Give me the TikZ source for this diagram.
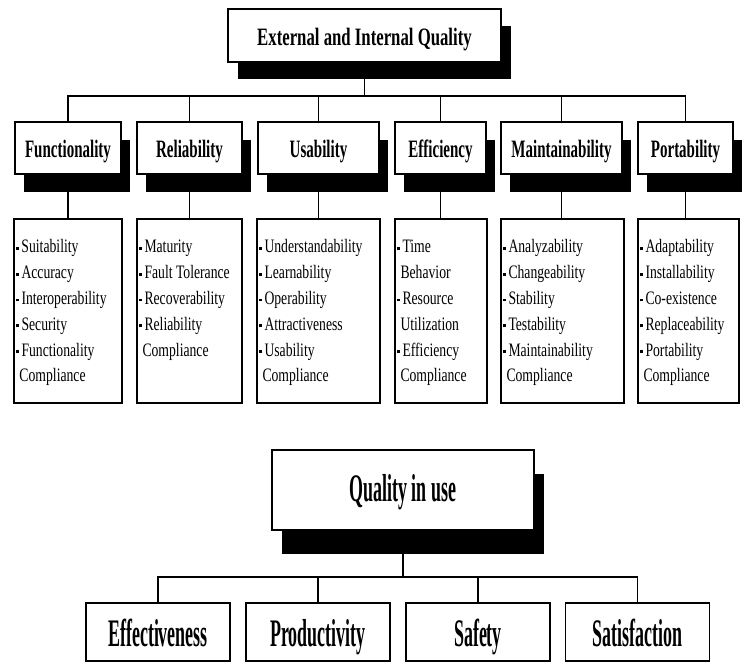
\documentclass[tikz,border=0pt]{standalone}
\usepackage{fontspec}
\setmainfont{Liberation Serif}
\newfontfamily\headfont{Liberation Serif}[FakeStretch=0.67]
\newfontfamily\subfont{Liberation Serif}[FakeStretch=0.6]
\newfontfamily\itemfont{Liberation Serif}[FakeStretch=0.72]
\newfontfamily\usefnt{Liberation Serif}[FakeStretch=0.46]
\usepackage{tikz}
\usetikzlibrary{shadows}

\newcommand{\itm}{\makebox[5.5pt][l]{\raisebox{3pt}{\rule{2.8pt}{2.8pt}}}}
\newcommand{\cnt}{\hspace*{3.5pt}}
\newcommand{\qlist}[2]{\parbox[c][180pt][t]{#1}{\raggedright\rule{0pt}{32pt}#2}}

\begin{document}
\begin{tikzpicture}[x=1pt, y=1pt,
    sbox/.style 2 args={draw, fill=white, line width=1.8pt, inner sep=2pt,
        drop shadow={shadow xshift=#1, shadow yshift=#2, fill=black, opacity=1}},
    head/.style={sbox={9pt}{-18pt}, minimum height=52pt, text height=20pt, text depth=0pt,
        font=\subfont\bfseries\fontsize{25}{30}\selectfont},
    listbox/.style={draw, line width=1.8pt, inner sep=2pt, anchor=north,
        font=\itemfont\fontsize{19}{25.8}\selectfont},
    low/.style={draw, fill=white, line width=1.8pt, inner sep=2pt, minimum width=144pt,
        minimum height=58pt, text height=30pt, text depth=0pt,
        font=\usefnt\bfseries\fontsize{39}{46}\selectfont},
    link/.style={line width=1.8pt}]
    \useasboundingbox (0,0) rectangle (742,663);

    \node[sbox={10pt}{-17pt}, minimum width=273pt, minimum height=53pt, text height=21pt, text depth=0pt,
        font=\headfont\bfseries\fontsize{25}{30}\selectfont] (eiq) at (364.5,627.5) {External and Internal Quality};

    \node[head, minimum width=106pt] (fun) at (68,515) {Functionality};
    \node[head, minimum width=105pt] (rel) at (189.5,515) {Reliability};
    \node[head, minimum width=121pt] (usa) at (318.5,515) {Usability};
    \node[head, minimum width=91pt] (eff) at (440.5,515) {Efficiency};
    \node[head, minimum width=121pt] (mai) at (561.5,515) {Maintainability};
    \node[head, minimum width=95pt] (por) at (685.5,515) {Portability};

    \coordinate (busone) at (0,567);
    \draw[link] (eiq.south) -- (eiq.south |- busone);
    \draw[link] (fun.north) -- (fun.north |- busone) -- (por.north |- busone) -- (por.north);
    \foreach \n in {rel,usa,eff,mai}
        \draw[link] (\n.north) -- (\n.north |- busone);

    \node[listbox] (lfun) at (68,445) {\qlist{104pt}{\itm Suitability\\ \itm Accuracy\\ \itm Interoperability\\ \itm Security\\ \itm Functionality\\ \cnt Compliance}};
    \node[listbox] (lrel) at (189.5,445) {\qlist{101pt}{\itm Maturity\\ \itm Fault Tolerance\\ \itm Recoverability\\ \itm Reliability\\ \cnt Compliance}};
    \node[listbox] (lusa) at (318.5,445) {\qlist{119pt}{\itm Understandability\\ \itm Learnability\\ \itm Operability\\ \itm Attractiveness\\ \itm Usability\\ \cnt Compliance}};
    \node[listbox] (leff) at (441,445) {\qlist{88pt}{\itm Time\\ \cnt Behavior\\ \itm Resource\\ \cnt Utilization\\ \itm Efficiency\\ \cnt Compliance}};
    \node[listbox] (lmai) at (562.5,445) {\qlist{119pt}{\itm Analyzability\\ \itm Changeability\\ \itm Stability\\ \itm Testability\\ \itm Maintainability\\ \cnt Compliance}};
    \node[listbox] (lpor) at (688.5,445) {\qlist{97pt}{\itm Adaptability\\ \itm Installability\\ \itm Co-existence\\ \itm Replaceability\\ \itm Portability\\ \cnt Compliance}};

    \foreach \n in {fun,rel,usa,eff,mai,por}
        \draw[link] (\n.south) -- (\n.south |- l\n.north);

    \node[sbox={10pt}{-24pt}, minimum width=262pt, minimum height=80pt, text height=23.4pt, text depth=0pt,
        font=\usefnt\bfseries\fontsize{39}{46}\selectfont] (qiu) at (403,173) {Quality in use};

    \node[low] (effe) at (158,31) {Effectiveness};
    \node[low] (prod) at (318,31) {Productivity};
    \node[low] (safe) at (478,31) {Safety};
    \node[low] (sati) at (637.5,31) {Satisfaction};

    \coordinate (bustwo) at (0,86);
    \draw[link] (qiu.south) -- (qiu.south |- bustwo);
    \draw[link] (effe.north) -- (effe.north |- bustwo) -- (sati.north |- bustwo) -- (sati.north);
    \foreach \n in {prod,safe}
        \draw[link] (\n.north) -- (\n.north |- bustwo);
\end{tikzpicture}
\end{document}
